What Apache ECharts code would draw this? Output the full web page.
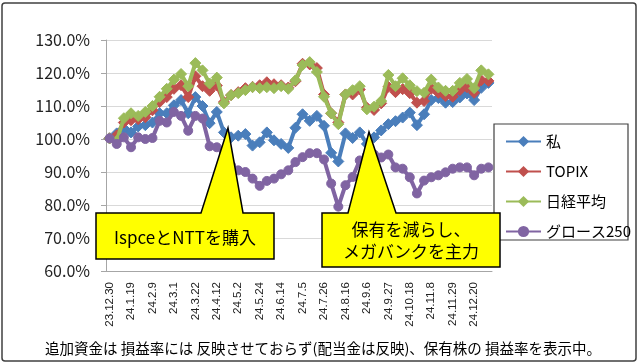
<!DOCTYPE html>
<html><head><meta charset="utf-8">
<script src="https://cdn.jsdelivr.net/npm/echarts@6/dist/echarts.min.js"></script>
<style>html,body{margin:0;padding:0;background:#fff}#c{width:640px;height:364px}</style>
</head><body><div id="c"></div>
<script>
const categories = ['23.12.30','24.1.5','24.1.12','24.1.19','24.1.26','24.2.2','24.2.9','24.2.16','24.2.22','24.3.1','24.3.8','24.3.15','24.3.22','24.3.29','24.4.5','24.4.12','24.4.19','24.4.26','24.5.2','24.5.10','24.5.17','24.5.24','24.5.31','24.6.7','24.6.14','24.6.21','24.6.28','24.7.5','24.7.12','24.7.19','24.7.26','24.8.2','24.8.9','24.8.16','24.8.23','24.8.30','24.9.6','24.9.13','24.9.20','24.9.27','24.10.4','24.10.11','24.10.18','24.10.25','24.11.1','24.11.8','24.11.15','24.11.22','24.11.29','24.12.6','24.12.13','24.12.20','24.12.27','24.12.30'];
const watashi = [100.2,101.7,103.2,102,103.8,104.2,105,107.8,107.8,110.2,111.8,107.8,112.7,110,104.8,108.2,102,100.5,101,101.5,98,99,102,99.6,98.5,97.3,103.4,107.5,105.5,107,104,95.8,93.2,101.7,100.3,102,98.5,100.5,102.6,104.5,105.4,106.5,108,104.2,107.5,111.8,112.4,111,111.2,112.6,113.8,111.8,115.5,117];
const topix = [100.2,101.1,105,105.7,106,106.6,108.7,111.2,112.7,115.2,116.3,112.7,119,116,114.6,116.2,111.2,113.3,114.2,115.4,115.8,116.3,117.2,116.6,116.3,115.6,117.5,122.8,122.6,121.5,113.5,107.8,105,113.5,113.5,115,109.5,108.8,110.8,115.8,114.2,115.1,113.9,111,111.5,115.2,114,113,112.8,114.8,115.7,114,117.8,117.6];
const nikkei = [100.2,99.5,106.3,107.8,107,108.2,110,112.8,115.2,118,119.7,116,123,120.8,116.8,118.6,110.8,113.3,113.9,114.8,115.7,115.4,115.7,115.4,116,115.2,117.8,122.4,123.3,120.3,112.8,107.8,104.5,113.5,114.8,116,109,109.8,111.5,119.4,116,118.4,116.3,114.5,114,118,115.6,114.6,114.6,117,118.2,115.4,120.8,119.6];
const growth = [100.2,98.5,100.5,97.5,100.5,100,100.3,105.5,105,108.2,107,102.5,107,106.2,97.8,97.5,96,92,90.5,90,88,85.8,87.3,88,89.3,90.5,93,94.5,95.7,95.7,93.8,86.5,79.5,86,88.5,93.5,95,95.3,94.4,95.3,91.4,91,88.4,83.5,87.4,88.4,89,89.9,91,91.4,91.4,89,91,91.4];
const seriesNames = ['私','TOPIX','日経平均','グロース250'];
const yTicks = {min:60, max:130, step:10};
const note1 = 'IspceとNTTを購入';
const note2 = '保有を減らし、\nメガバンクを主力';
const footer = '追加資金は 損益率には 反映させておらず(配当金は反映)、保有株の 損益率を表示中。';

const colors = ['#4A7EBB','#C0504D','#9BBB59','#8064A2'];
const symbols = ['diamond','diamond','diamond','circle'];
const sizes = [11,11,11,9];
const datas = [watashi, topix, nikkei, growth];
const JP = '"Noto Sans CJK JP", "Noto Sans", sans-serif';

const chart = echarts.init(document.getElementById('c'), null, {renderer:'canvas'});
chart.setOption({
  animation:false,
  textStyle:{fontFamily:JP},
  grid:{left:106, right:148, top:40, bottom:93, containLabel:false},
  legend:{
    orient:'vertical', left:500, top:129, itemWidth:35, itemHeight:14, itemGap:15,
    textStyle:{fontSize:15, color:'#000', fontFamily:JP},
    data:seriesNames
  },
  xAxis:{
    type:'category', data:categories, boundaryGap:true,
    axisLine:{lineStyle:{color:'#a6a6a6', width:1}},
    axisTick:{show:false},
    axisLabel:{interval:2, rotate:90, fontSize:11.5, color:'#222', margin:11, fontFamily:'"Liberation Sans", Arial, sans-serif'}
  },
  yAxis:{
    type:'value', min:yTicks.min, max:yTicks.max, interval:yTicks.step,
    axisLine:{show:true, lineStyle:{color:'#a6a6a6'}},
    axisTick:{show:true, length:5, lineStyle:{color:'#a6a6a6'}},
    splitLine:{lineStyle:{color:'#d9d9d9', width:1}},
    axisLabel:{formatter:v=>v.toFixed(1)+'%', fontSize:16, color:'#222', margin:16}
  },
  series: seriesNames.map((n,i)=>({
    name:n, type:'line', data:datas[i], symbol:symbols[i], symbolSize:sizes[i],
    showAllSymbol:true,
    lineStyle:{color:colors[i], width:4},
    itemStyle:{color:colors[i], borderColor:colors[i]},
    z:2+i
  })),
  graphic:[
    {type:'rect', shape:{x:2,y:3,width:634,height:358,r:3}, style:{fill:'none', stroke:'#404040', lineWidth:1.5}, z:1},
    {type:'rect', shape:{x:494,y:124,width:134,height:116}, style:{fill:'none', stroke:'#404040', lineWidth:1.2}, z:1},
    {type:'polygon', shape:{points:[[96,213],[201,213],[228,128],[243,213],[274,213],[274,259],[96,259]]},
      style:{fill:'#FFFF00', stroke:'#000', lineWidth:1.5}, z:50},
    {type:'text', z:51,
      style:{text:note1, x:185, y:238, align:'center', verticalAlign:'middle', font:'17px '+JP, fill:'#000'}},
    {type:'polygon', shape:{points:[[322,213],[348,213],[369,132],[396,213],[500,213],[500,267],[322,267]]},
      style:{fill:'#FFFF00', stroke:'#000', lineWidth:1.5}, z:50},
    {type:'text', z:51,
      style:{text:note2, x:411, y:241, align:'center', verticalAlign:'middle', lineHeight:22, font:'17px '+JP, fill:'#000'}},
    {type:'text', z:51,
      style:{text:footer, x:45, y:348, align:'left', verticalAlign:'middle', font:'14.5px '+JP, fill:'#000'}}
  ]
});
</script></body></html>
